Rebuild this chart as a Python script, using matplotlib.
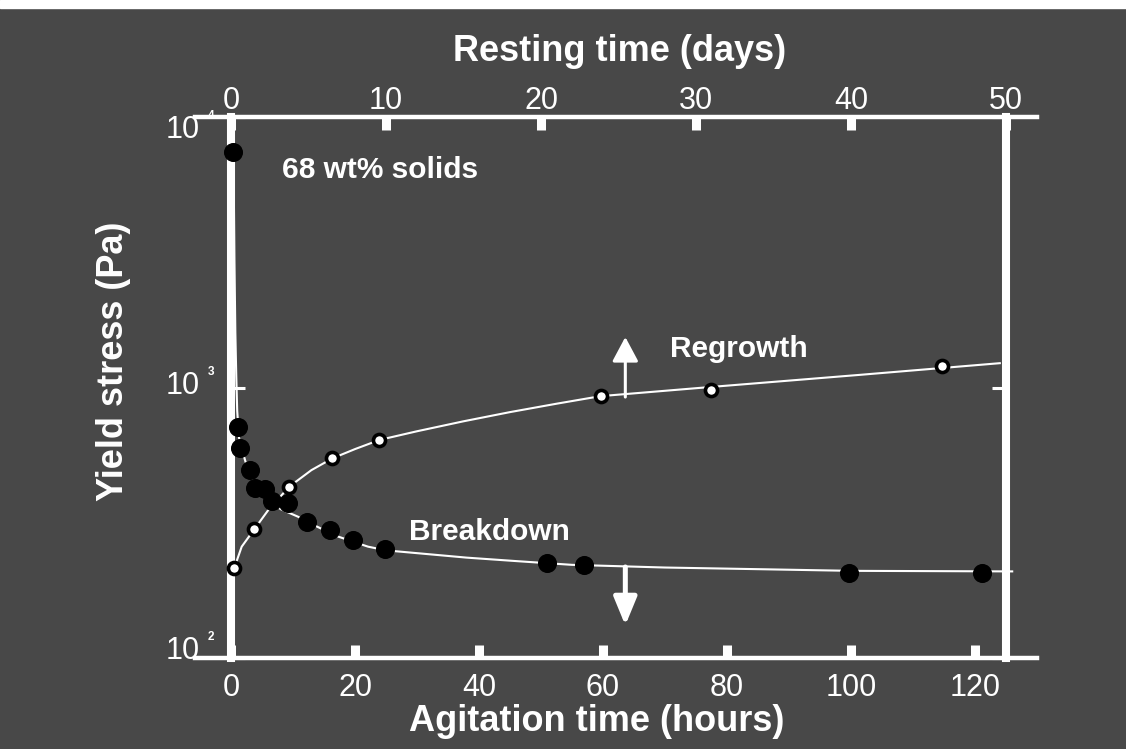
import numpy as np
import matplotlib.pyplot as plt
from matplotlib.lines import Line2D
from matplotlib.patches import Rectangle
from matplotlib.ticker import FixedLocator, NullLocator
from matplotlib.transforms import blended_transform_factory

plt.rcParams["font.family"] = ["Liberation Sans", "DejaVu Sans"]

bg = "#484848"

# breakdown: agitation time (hours) vs yield stress (Pa)
brk_t = [0.4, 1.1, 1.45, 3.05, 3.85, 5.45, 6.65, 9.2, 12.2, 16.0, 19.6, 24.9,
         50.9, 56.9, 99.7, 121.2]
brk_y = [7400, 716, 596, 496, 426, 421, 382, 373, 319, 297, 273, 252,
         224, 221, 207, 207]
# smooth curve drawn through the breakdown data
brk_fit_t = [0.4, 0.55, 0.7, 0.85, 1.0, 1.3, 2.25, 3.0, 4.0, 5.0, 6.0, 8.0,
             10.8, 14.0, 17.3, 22.1, 25.0, 30.1, 38.0, 46.2, 55.0, 70.0,
             85.0, 100.0, 126.0]
brk_fit_y = [7400, 3000, 1600, 1100, 820, 650, 540, 475, 430, 405, 385, 355,
             333, 305, 281, 258, 250, 244, 235, 228, 221, 216,
             213, 210, 209]

# regrowth: resting time (days) vs yield stress (Pa)
reg_t = [0.22, 1.5, 3.76, 6.54, 9.58, 23.84, 30.96, 45.88]
reg_y = [216, 299, 430, 547, 640, 933, 977, 1205]
reg_fit_t = [0.22, 0.69, 1.5, 2.4, 3.76, 5.19, 6.54, 8.0, 9.58, 12.0, 15.0,
             18.0, 21.0, 23.84, 31.0, 40.6, 49.6]
reg_fit_y = [216, 258, 299, 352, 430, 495, 547, 592, 640, 689, 750,
             811, 871, 929, 1005, 1114, 1230]

hour_ticks = [0, 20, 40, 60, 80, 100, 120]
day_ticks = [0, 10, 20, 30, 40, 50]
y_ticks = [1e2, 1e3, 1e4]
y_exps = ["2", "3", "4"]

hours_per_day = 125 / 50  # top axis 0-50 days spans the same width as 0-125 h

fig = plt.figure(figsize=(11.26, 7.49), dpi=100)
fig.patch.set_facecolor(bg)
fig.patches.append(Rectangle((0, 1 - 8 / 749), 1, 8 / 749, transform=fig.transFigure,
                             color="white", zorder=-5))

ax = fig.add_axes([231 / 1126, 91 / 749, 775 / 1126, 541 / 749])
ax.set_facecolor(bg)
ax.set_yscale("log")
ax.set_xlim(0, 125)
ax.set_ylim(100, 10000)

# curves and points
ax.plot(brk_fit_t, brk_fit_y, color="white", lw=1.5, zorder=3, clip_on=False)
ax.plot(np.array(reg_fit_t) * hours_per_day, reg_fit_y, color="white", lw=1.5,
        zorder=3, clip_on=False)
ax.plot(np.array(reg_t) * hours_per_day, reg_y, "o", ms=8.7, mfc="white", mec="black",
        mew=2.6, zorder=5, clip_on=False)
ax.plot(brk_t, brk_y, "o", ms=12.7, color="black", zorder=6, clip_on=False)

# spines
for s in ["top", "bottom"]:
    ax.spines[s].set_visible(False)
for s in ["left", "right"]:
    ax.spines[s].set_color("white")
    ax.spines[s].set_linewidth(5.8)
for yy in (0, 1):
    ax.add_line(Line2D([-0.046, 1.04], [yy, yy], transform=ax.transAxes,
                       color="white", lw=3.2, clip_on=False, zorder=4))

# bottom axis
ax.xaxis.set_major_locator(FixedLocator(hour_ticks))
ax.tick_params(axis="x", direction="in", length=9.5, width=6.5, color="white",
               labelcolor="white", labelsize=22, pad=11, top=False)

# y axis: ticks only, labels written as "10" + small exponent like the original
ax.yaxis.set_major_locator(FixedLocator(y_ticks))
ax.yaxis.set_minor_locator(NullLocator())
ax.tick_params(axis="y", which="major", direction="in", length=10, width=2.2,
               color="white", left=True, right=True, labelleft=False)
ytr = blended_transform_factory(ax.transAxes, ax.transData)
y_off = [5, 1, -9]  # label nudges in points (10^2 sits above, 10^4 below the lines)
for v, e, dy in zip(y_ticks, y_exps, y_off):
    ax.annotate("10", xy=(-0.040, v), xycoords=ytr, xytext=(0, dy),
                textcoords="offset points", ha="right", va="center",
                fontsize=22, color="white", annotation_clip=False)
    ax.annotate(e, xy=(-0.0297, v), xycoords=ytr, xytext=(0, dy + 10),
                textcoords="offset points", ha="left", va="center",
                fontsize=8.5, fontweight="bold", color="white",
                annotation_clip=False)

# top axis (days)
sec = ax.secondary_xaxis("top", functions=(lambda h: h / hours_per_day,
                                           lambda d: d * hours_per_day))
sec.set_xticks(day_ticks)
sec.spines["top"].set_visible(False)
sec.tick_params(axis="x", direction="in", length=9.5, width=6.5, color="white",
                labelcolor="white", labelsize=22, pad=0.5)

lab = dict(fontsize=26, fontweight="bold", color="white")
ax.set_xlabel("Agitation time (hours)", **lab)
ax.xaxis.set_label_coords(0.472, -0.085, transform=ax.transAxes)
sec.set_xlabel("Resting time (days)", **lab)
sec.xaxis.set_label_coords(0.501, 1.104, transform=ax.transAxes)
ax.set_ylabel("Yield stress (Pa)", **lab)
ax.yaxis.set_label_coords(-0.1295, 0.549, transform=ax.transAxes)

# annotations
txt = dict(fontsize=21.5, fontweight="bold", color="white", va="baseline", ha="left")
ax.text(8.15, 5950, "68 wt% solids", **txt)
ax.text(70.85, 1300, "Regrowth", **txt)
ax.text(28.7, 273, "Breakdown", **txt)

ax.annotate("", xy=(63.6, 1537), xytext=(63.6, 922),
            arrowprops=dict(arrowstyle="-|>,head_length=0.75,head_width=0.4",
                            mutation_scale=20, color="white", lw=2.2,
                            shrinkA=0, shrinkB=0))
ax.annotate("", xy=(63.6, 132), xytext=(63.6, 217),
            arrowprops=dict(arrowstyle="-|>,head_length=0.85,head_width=0.35",
                            mutation_scale=20, color="white", lw=3.6,
                            shrinkA=0, shrinkB=0))

fig.savefig("out.png", dpi=100, facecolor=fig.get_facecolor())
